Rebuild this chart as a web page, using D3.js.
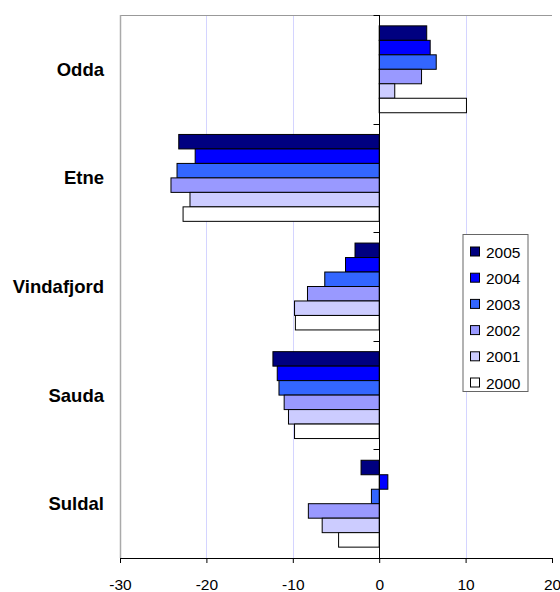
<!DOCTYPE html>
<html><head><meta charset="utf-8">
<script src="https://cdn.jsdelivr.net/npm/d3@7"></script>
<style>body{margin:0;background:#fff}svg{display:block}</style>
</head><body>
<svg id="chart" width="560" height="592"></svg>
<script>
const categories = ["Odda", "Etne", "Vindafjord", "Sauda", "Suldal"];
const seriesNames = ["2005", "2004", "2003", "2002", "2001", "2000"];
const v2005 = [5.5, -23.2, -2.8, -12.3, -2.1];
const v2004 = [5.9, -21.3, -3.9, -11.8, 1.0];
const v2003 = [6.6, -23.4, -6.3, -11.6, -0.9];
const v2002 = [4.9, -24.1, -8.3, -11.0, -8.2];
const v2001 = [1.8, -21.9, -9.8, -10.5, -6.6];
const v2000 = [10.1, -22.7, -9.7, -9.8, -4.7];
const xTicks = [-30, -20, -10, 0, 10, 20];
const colors = ["#000080", "#0000ff", "#3366ff", "#9999ff", "#ccccff", "#ffffff"];
const seriesValues = [v2005, v2004, v2003, v2002, v2001, v2000];

const FONT = "Liberation Sans, Arial, Helvetica, sans-serif";
const svg = d3.select("#chart");
const L = 120, R = 552, T = 15, B = 558;
const x = d3.scaleLinear().domain([-30, 20]).range([L, R]);
const y = d3.scaleBand().domain(categories).range([T, B]).paddingInner(0.2).paddingOuter(0.1);
const ys = d3.scaleBand().domain(seriesNames).range([0, y.bandwidth()]);

// gridlines
svg.append("g").selectAll("line").data(xTicks.filter(t => t !== 0 && t !== -30 && t !== 20)).join("line")
  .attr("x1", d => Math.round(x(d)) + 0.5).attr("x2", d => Math.round(x(d)) + 0.5).attr("y1", T).attr("y2", B)
  .attr("stroke", "#d4d4ff").attr("stroke-width", 1);

// plot border (top, left)
svg.append("line").attr("x1", L).attr("x2", R).attr("y1", T + 0.5).attr("y2", T + 0.5).attr("stroke", "#999").attr("stroke-width", 1);
svg.append("line").attr("x1", L + 0.5).attr("x2", L + 0.5).attr("y1", T).attr("y2", B).attr("stroke", "#aaa").attr("stroke-width", 1.5);

// bars
const data = [];
categories.forEach((c, i) => seriesNames.forEach((s, j) => data.push({c, s, v: seriesValues[j][i], col: colors[j]})));
svg.append("g").selectAll("rect").data(data).join("rect")
  .attr("x", d => x(Math.min(0, d.v)))
  .attr("y", d => y(d.c) + ys(d.s))
  .attr("width", d => Math.abs(x(d.v) - x(0)))
  .attr("height", ys.bandwidth())
  .attr("fill", d => d.col).attr("stroke", "#000").attr("stroke-width", 1);

// vertical axis at 0
const x0 = Math.round(x(0)) + 0.5;
svg.append("line").attr("x1", x0).attr("x2", x0).attr("y1", T).attr("y2", B).attr("stroke", "#000").attr("stroke-width", 1);
const bounds = categories.map(c => y(c) - y.step() * y.paddingInner() / 2);
bounds.push(B);
svg.append("g").selectAll("line").data(bounds).join("line")
  .attr("x1", x0 - 6).attr("x2", x0).attr("y1", d => Math.round(d) + 0.5).attr("y2", d => Math.round(d) + 0.5)
  .attr("stroke", "#000");

// category labels
svg.append("g").selectAll("text").data(categories).join("text")
  .attr("x", 104).attr("y", d => y(d) + y.bandwidth() / 2)
  .attr("text-anchor", "end").attr("dominant-baseline", "central")
  .attr("font-family", FONT).attr("font-weight", "bold").attr("font-size", 18.5)
  .text(d => d);

// bottom axis
const xAxis = svg.append("g").attr("transform", `translate(0,${B})`)
  .call(d3.axisBottom(x).tickValues(xTicks).tickSize(5).tickSizeOuter(0).tickFormat(d => String(d)));
xAxis.select(".domain").attr("stroke", "#000");
xAxis.selectAll("line").attr("stroke", "#000");
xAxis.selectAll("text").attr("font-family", FONT).attr("font-size", 15.5).attr("fill", "#000")
  .attr("y", 21).attr("dy", "0.71em");

// legend
const lg = svg.append("g");
lg.append("rect").attr("x", 463).attr("y", 234.5).attr("width", 65).attr("height", 157)
  .attr("fill", "#fff").attr("stroke", "#666").attr("stroke-width", 1);
const items = lg.selectAll("g.item").data(seriesNames).join("g").attr("class", "item")
  .attr("transform", (d, i) => `translate(470,${251.5 + i * 26.2})`);
items.append("rect").attr("x", 0.5).attr("y", -4.5).attr("width", 9).attr("height", 9)
  .attr("fill", (d, i) => colors[i]).attr("stroke", "#000");
items.append("text").attr("x", 16).attr("y", 0.5).attr("dominant-baseline", "central")
  .attr("font-family", FONT).attr("font-size", 15.5).text(d => d);
</script>
</body></html>
